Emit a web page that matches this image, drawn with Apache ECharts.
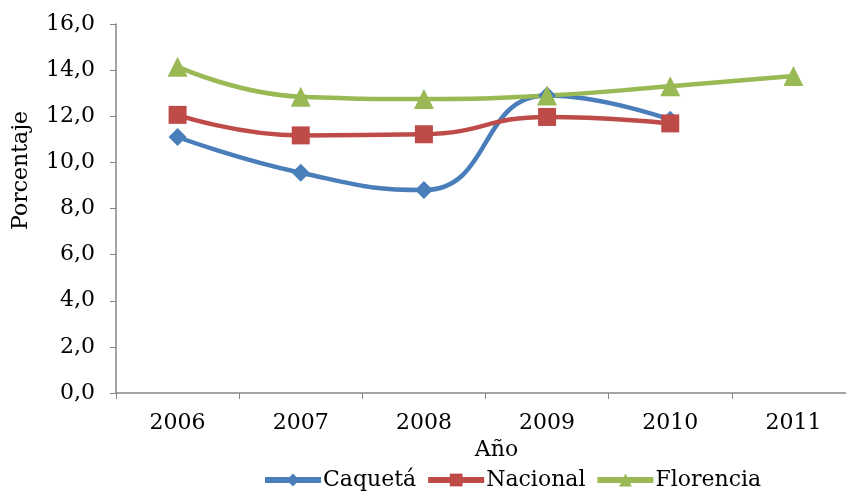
<!DOCTYPE html>
<html><head><meta charset="utf-8">
<script src="https://cdn.jsdelivr.net/npm/echarts@6/dist/echarts.min.js"></script>
<style>html,body{margin:0;padding:0;background:#fff}#c{width:846px;height:491px}</style>
</head><body><div id="c"></div>
<script>
const years = ['2006','2007','2008','2009','2010','2011'];
const caqueta = [11.1, 9.55, 8.8, 12.9, 11.85, null];
const nacional = [12.06, 11.17, 11.22, 11.97, 11.69, null];
const florencia = [14.15, 12.85, 12.75, 12.9, 13.3, 13.75];
const yTicks = [0, 2, 4, 6, 8, 10, 12, 14, 16];

const chart = echarts.init(document.getElementById('c'));
const serif = 'DejaVu Serif';
function mk(name, data, color, symbol, size) {
  return {
    name, type: 'line', data, smooth: 0.5, connectNulls: false,
    symbol, symbolSize: size, showSymbol: true,
    lineStyle: { color, width: 4.5 },
    itemStyle: { color },
    emphasis: { disabled: true }
  };
}
const fmt = v => yTicks.includes(v) ? v.toFixed(1).replace('.', ',') : '';
chart.setOption({
  animation: false,
  grid: { left: 116, right: -9, top: 24, bottom: 98, containLabel: false, outerBoundsMode: 'none' },
  legend: {
    bottom: -5, left: 257, itemGap: 9, itemWidth: 56, itemHeight: 16,
    lineStyle: { width: 6 },
    textStyle: { fontFamily: serif, fontSize: 22, color: '#000', padding: [0, 0, 0, -3] },
    data: ['Caquetá', 'Nacional', 'Florencia']
  },
  xAxis: {
    type: 'category', data: years, boundaryGap: true,
    name: 'Año', nameLocation: 'middle', nameGap: 46,
    nameTextStyle: { fontFamily: serif, fontSize: 22, color: '#000', padding: [0, 0, 0, 22] },
    axisLine: { lineStyle: { color: '#868686', width: 1.5 } },
    axisTick: { show: true, length: 6, lineStyle: { color: '#868686' } },
    axisLabel: { fontFamily: serif, fontSize: 22, color: '#000', margin: 19 },
    splitLine: { show: false }
  },
  yAxis: {
    type: 'value', min: 0, max: 16, interval: 2,
    name: 'Porcentaje', nameLocation: 'middle', nameGap: 84, nameRotate: 90,
    nameTextStyle: { fontFamily: serif, fontSize: 22, color: '#000', padding: [0, 0, 0, 76] },
    axisLine: { show: true, lineStyle: { color: '#868686', width: 1.5 } },
    axisTick: { show: true, length: 6, lineStyle: { color: '#868686' } },
    axisLabel: { fontFamily: serif, fontSize: 22, color: '#000', margin: 21, formatter: fmt },
    splitLine: { show: false }
  },
  series: [
    mk('Caquetá', caqueta, '#4a7ebb', 'diamond', 18),
    mk('Nacional', nacional, '#be4b48', 'rect', 18),
    mk('Florencia', florencia, '#98b954', 'triangle', 20)
  ]
});
</script></body></html>
